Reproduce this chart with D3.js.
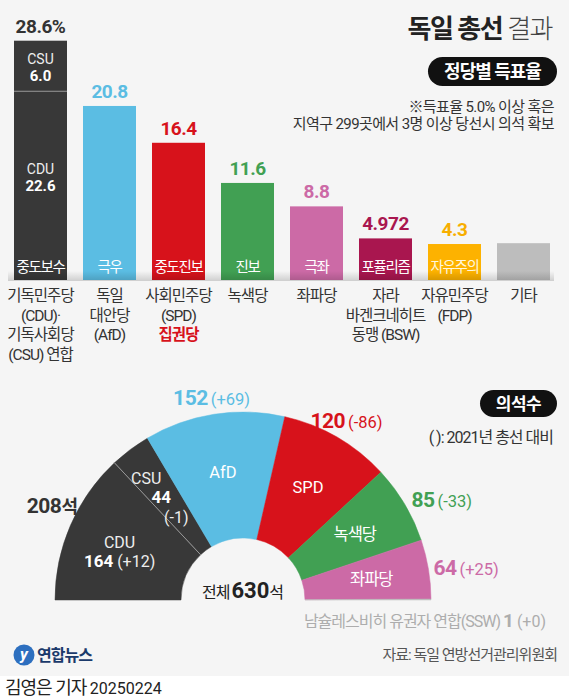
<!DOCTYPE html>
<html>
<head>
<meta charset="utf-8">
<script src="https://cdn.jsdelivr.net/npm/d3@7"></script>
<style>
body{margin:0;background:#fff;}
svg{display:block;}
text{font-family:Roboto,'Noto Sans CJK KR',sans-serif;}
</style>
</head>
<body>
<div class="chart"></div>
<script>
/* ===== data ===== */
var parties = ['CDU/CSU','AfD','SPD','Greens','Linke','BSW','FDP','Others'];
var voteShare = [22.6, 20.8, 16.4, 11.6, 8.8, 4.972, 4.3, 4.4];
var csuShare = 6.0;
var voteLabels = ['28.6%','20.8','16.4','11.6','8.8','4.972','4.3',''];
var spectrum = ['중도보수','극우','중도진보','진보','극좌','포퓰리즘','자유주의',''];
var partyNames = [
	['기독민주당','(CDU)·','기독사회당','(CSU) 연합'],
	['독일','대안당','(AfD)'],
	['사회민주당','(SPD)'],
	['녹색당'],
	['좌파당'],
	['자라','바겐크네히트','동맹 (BSW)'],
	['자유민주당','(FDP)'],
	['기타']
];
var seatParties = ['CDU','CSU','AfD','SPD','녹색당','좌파당','SSW'];
var seats = [164, 44, 152, 120, 85, 64, 1];
var seatChanges = ['+12','-1','+69','-86','-33','+25','+0'];
var totalSeats = 630;

/* ===== styles ===== */
var barColors = ['#383838','#5bbde3','#d7121b','#41a053','#cc6aa6','#a9164f','#fdb200','#bdbdbd'];
var labelColors = ['#333333','#5bbde3','#d7121b','#41a053','#cc6aa6','#a9164f','#f7ae00','#bdbdbd'];
var seatColors = ['#383838','#383838','#5bbde3','#d7121b','#41a053','#cc6aa6','#bdbdbd'];
var textColor = '#333';
var krSpacing = '-1px';

function drawChart(width, height){
	var svg = d3.select('.chart').append('svg')
		.attr('width', width)
		.attr('height', height);

	svg.append('rect').attr('width', width).attr('height', height).attr('fill', '#f5f5f5');
	svg.append('rect').attr('x', 0).attr('y', 676).attr('width', width).attr('height', height-676).attr('fill', '#ffffff');

	var defs = svg.append('defs');
	var shade = defs.append('linearGradient').attr('id', 'baseShade')
		.attr('x1', '0%').attr('y1', '0%').attr('x2', '0%').attr('y2', '100%');
	shade.append('stop').attr('offset', '0%').attr('stop-color', '#000').attr('stop-opacity', 0);
	shade.append('stop').attr('offset', '100%').attr('stop-color', '#000').attr('stop-opacity', 0.16);

	/* ---- title ---- */
	var title = svg.append('text')
		.attr('x', 552).attr('y', 38)
		.attr('text-anchor', 'end')
		.attr('font-size', 26)
		.attr('letter-spacing', '-1.5px')
		.attr('fill', '#222');
	title.append('tspan').attr('font-weight', 'bold').text('독일 총선 ');
	title.append('tspan').attr('font-weight', 300).attr('fill', '#444').text('결과');

	svg.append('rect').attr('x', 428).attr('y', 57).attr('width', 129).attr('height', 29)
		.attr('rx', 14.5).attr('fill', '#111');
	svg.append('text').attr('x', 492.5).attr('y', 78)
		.attr('text-anchor', 'middle').attr('font-size', 18).attr('font-weight', 'bold')
		.attr('letter-spacing', '-1px').attr('fill', '#fff').text('정당별 득표율');

	svg.append('text').attr('x', 554).attr('y', 112)
		.attr('text-anchor', 'end').attr('font-size', 15).attr('letter-spacing', '-0.6px')
		.attr('fill', textColor).text('※득표율 5.0% 이상 혹은');
	svg.append('text').attr('x', 554).attr('y', 129)
		.attr('text-anchor', 'end').attr('font-size', 15).attr('letter-spacing', '-0.6px')
		.attr('fill', textColor).text('지역구 299곳에서 3명 이상 당선시 의석 확보');

	/* ---- bar chart ---- */
	var x = d3.scaleBand().domain(parties).range([6, 558]).paddingInner(0.232).paddingOuter(0.116);
	var y = d3.scaleLinear().domain([0, 28.6]).range([280, 40.7]);
	var bw = x.bandwidth();

	var bars = svg.append('g');
	parties.forEach(function(p, i){
		var bx = x(p);
		var top = y(voteShare[i]);
		bars.append('rect')
			.attr('x', bx).attr('y', top)
			.attr('width', bw).attr('height', y(0)-top)
			.attr('fill', barColors[i]);
		var labelTop = top;
		if(i == 0){
			var csuTop = y(voteShare[0] + csuShare);
			bars.append('rect')
				.attr('x', bx).attr('y', csuTop)
				.attr('width', bw).attr('height', top-csuTop)
				.attr('fill', barColors[0]);
			bars.append('line')
				.attr('x1', bx).attr('x2', bx+bw).attr('y1', top+0.5).attr('y2', top+0.5)
				.attr('stroke', '#8a8a8a').attr('stroke-width', 1);
			bars.append('text').attr('x', bx+bw/2).attr('y', csuTop+23)
				.attr('text-anchor', 'middle').attr('font-size', 14).attr('fill', '#eee').text('CSU');
			bars.append('text').attr('x', bx+bw/2).attr('y', csuTop+40)
				.attr('text-anchor', 'middle').attr('font-size', 15).attr('font-weight', 'bold').attr('fill', '#fff').text(csuShare.toFixed(1));
			bars.append('text').attr('x', bx+bw/2).attr('y', y(voteShare[0]/2)-11)
				.attr('text-anchor', 'middle').attr('font-size', 14).attr('fill', '#eee').text('CDU');
			bars.append('text').attr('x', bx+bw/2).attr('y', y(voteShare[0]/2)+6)
				.attr('text-anchor', 'middle').attr('font-size', 15).attr('font-weight', 'bold').attr('fill', '#fff').text(voteShare[0].toFixed(1));
			labelTop = csuTop;
		}
		if(voteLabels[i] != ''){
			bars.append('text')
				.attr('x', bx+bw/2).attr('y', labelTop-8)
				.attr('text-anchor', 'middle')
				.attr('font-size', 19).attr('font-weight', 'bold')
				.attr('letter-spacing', '-0.5px')
				.attr('fill', labelColors[i])
				.text(voteLabels[i]);
		}
		if(spectrum[i] != ''){
			bars.append('text')
				.attr('x', bx+bw/2).attr('y', y(0)-8)
				.attr('text-anchor', 'middle')
				.attr('font-size', 14.5).attr('letter-spacing', '-1.3px')
				.attr('fill', i == 6 ? '#fff7dd' : '#fff')
				.text(spectrum[i]);
		}
		partyNames[i].forEach(function(line, k){
			bars.append('text')
				.attr('x', bx+bw/2).attr('y', 301 + k*19.5)
				.attr('text-anchor', 'middle')
				.attr('font-size', 15.5).attr('letter-spacing', krSpacing)
				.attr('fill', textColor)
				.text(line);
		});
	});
	bars.append('text')
		.attr('x', x('SPD')+bw/2).attr('y', 301 + 2*19.5)
		.attr('text-anchor', 'middle')
		.attr('font-size', 15.5).attr('font-weight', 'bold').attr('letter-spacing', krSpacing)
		.attr('fill', '#d7121b').text('집권당');
	bars.append('rect')
		.attr('x', 8).attr('y', 271).attr('width', 546).attr('height', 10)
		.attr('fill', 'url(#baseShade)');

	/* ---- seats ---- */
	svg.append('rect').attr('x', 480).attr('y', 390).attr('width', 77).attr('height', 27)
		.attr('rx', 13.5).attr('fill', '#111');
	svg.append('text').attr('x', 518.5).attr('y', 409.5)
		.attr('text-anchor', 'middle').attr('font-size', 17).attr('font-weight', 'bold')
		.attr('letter-spacing', '-0.5px').attr('fill', '#fff').text('의석수');
	svg.append('text').attr('x', 553).attr('y', 443)
		.attr('text-anchor', 'end').attr('font-size', 16).attr('letter-spacing', krSpacing)
		.attr('fill', textColor).text('( ): 2021년 총선 대비');

	var cx = 243, cy = 600, rIn = 62, rOut = 188;
	var pie = d3.pie().sort(null).startAngle(-Math.PI/2).endAngle(Math.PI/2);
	var arcs = pie(seats);
	var arc = d3.arc().innerRadius(rIn).outerRadius(rOut);
	var g = svg.append('g').attr('transform', 'translate('+cx+','+cy+')');
	g.selectAll('path.seat').data(arcs).enter().append('path')
		.attr('class', 'seat')
		.attr('d', arc)
		.attr('fill', function(d, i){ return seatColors[i]; })
		.attr('stroke', function(d, i){ return seatColors[i]; })
		.attr('stroke-width', 0.5);
	var divA = arcs[0].endAngle;
	g.append('line')
		.attr('x1', rIn*Math.sin(divA)).attr('y1', -rIn*Math.cos(divA))
		.attr('x2', rOut*Math.sin(divA)).attr('y2', -rOut*Math.cos(divA))
		.attr('stroke', '#9a9a9a').attr('stroke-width', 1);

	function polar(a, r){ return [r*Math.sin(a), -r*Math.cos(a)]; }
	function mid(d){ return (d.startAngle + d.endAngle)/2; }

	// inside labels
	var p = polar(mid(arcs[0]), 128);
	g.append('text').attr('x', p[0]-6).attr('y', p[1]-1).attr('text-anchor', 'middle')
		.attr('font-size', 16).attr('fill', '#eee').text('CDU');
	var t = g.append('text').attr('x', p[0]-6).attr('y', p[1]+18).attr('text-anchor', 'middle').attr('fill', '#eee');
	t.append('tspan').attr('font-size', 17).attr('font-weight', 'bold').attr('fill', '#fff').text(seats[0]);
	t.append('tspan').attr('font-size', 16).text(' ('+seatChanges[0]+')');

	p = polar(mid(arcs[1]), 128);
	g.append('text').attr('x', p[0]-20).attr('y', p[1]-14).attr('text-anchor', 'middle')
		.attr('font-size', 16).attr('fill', '#eee').text('CSU');
	g.append('text').attr('x', p[0]-5).attr('y', p[1]+5).attr('text-anchor', 'middle')
		.attr('font-size', 17).attr('font-weight', 'bold').attr('fill', '#fff').text(seats[1]);
	g.append('text').attr('x', p[0]+10).attr('y', p[1]+25).attr('text-anchor', 'middle')
		.attr('font-size', 16).attr('fill', '#eee').text('('+seatChanges[1]+')');

	[2,3,4,5].forEach(function(i){
		var q = polar(mid(arcs[i]), 130);
		g.append('text').attr('x', q[0]).attr('y', q[1]+6).attr('text-anchor', 'middle')
			.attr('font-size', 16.5).attr('letter-spacing', i > 3 ? krSpacing : '0px')
			.attr('fill', '#fff').text(i == 2 ? 'AfD' : seatParties[i]);
	});

	// outer labels
	function outerLabel(a, r, anchor, color, num, change, suffix){
		var q = polar(a, r);
		var tx = g.append('text').attr('x', q[0]).attr('y', q[1]+7)
			.attr('text-anchor', anchor).attr('fill', color);
		tx.append('tspan').attr('font-size', 21).attr('font-weight', 'bold').attr('letter-spacing', '-0.5px').text(num);
		if(suffix) tx.append('tspan').attr('font-size', 18).attr('font-weight', 'bold').text(suffix);
		if(change) tx.append('tspan').attr('font-size', 16.5).attr('dx', 3).text('('+change+')');
	}
	outerLabel((arcs[0].startAngle+arcs[1].endAngle)/2, 190, 'end', textColor, seats[0]+seats[1], null, '석');
	outerLabel(mid(arcs[2]), 204, 'middle', seatColors[2], seats[2], seatChanges[2]);
	outerLabel(mid(arcs[3]), 207, 'middle', seatColors[3], seats[3], seatChanges[3]);
	outerLabel(mid(arcs[4]), 196, 'start', seatColors[4], seats[4], seatChanges[4]);
	outerLabel(mid(arcs[5]), 193, 'start', seatColors[5], seats[5], seatChanges[5]);

	var total = g.append('text').attr('x', 0).attr('y', -2).attr('text-anchor', 'middle').attr('fill', '#222');
	total.append('tspan').attr('font-size', 16).attr('letter-spacing', krSpacing).text('전체');
	total.append('tspan').attr('font-size', 22).attr('font-weight', 'bold').attr('dx', 2).text(totalSeats);
	total.append('tspan').attr('font-size', 16).text('석');

	var ssw = svg.append('text').attr('x', 546).attr('y', 627).attr('text-anchor', 'end').attr('fill', '#adadad');
	ssw.append('tspan').attr('font-size', 16).attr('letter-spacing', krSpacing).text('남슐레스비히 유권자 연합(SSW) ');
	ssw.append('tspan').attr('font-size', 19).attr('font-weight', 'bold').text(seats[6]);
	ssw.append('tspan').attr('font-size', 16).attr('dx', 3).text('('+seatChanges[6]+')');

	/* ---- footer ---- */
	var logo = svg.append('g').attr('transform', 'translate(15,655)');
	logo.append('circle').attr('cx', 9).attr('cy', 0).attr('r', 10.5).attr('fill', '#2d6fbf');
	logo.append('text').attr('x', 9).attr('y', 5).attr('text-anchor', 'middle')
		.attr('font-size', 16).attr('font-weight', 'bold').attr('font-style', 'italic')
		.attr('fill', '#fff').text('y');
	logo.append('text').attr('x', 22).attr('y', 6).attr('font-size', 16).attr('font-weight', 'bold')
		.attr('letter-spacing', '-1px').attr('fill', '#1b3a6b').text('연합뉴스');
	svg.append('text').attr('x', 557).attr('y', 660).attr('text-anchor', 'end')
		.attr('font-size', 15).attr('letter-spacing', krSpacing).attr('fill', '#555')
		.text('자료: 독일 연방선거관리위원회');
	var by = svg.append('text').attr('x', 5).attr('y', 694).attr('fill', '#222');
	by.append('tspan').attr('font-size', 18).attr('letter-spacing', krSpacing).text('김영은 기자 ');
	by.append('tspan').attr('font-size', 16).text('20250224');
}
drawChart(569, 699);
</script>
</body>
</html>
